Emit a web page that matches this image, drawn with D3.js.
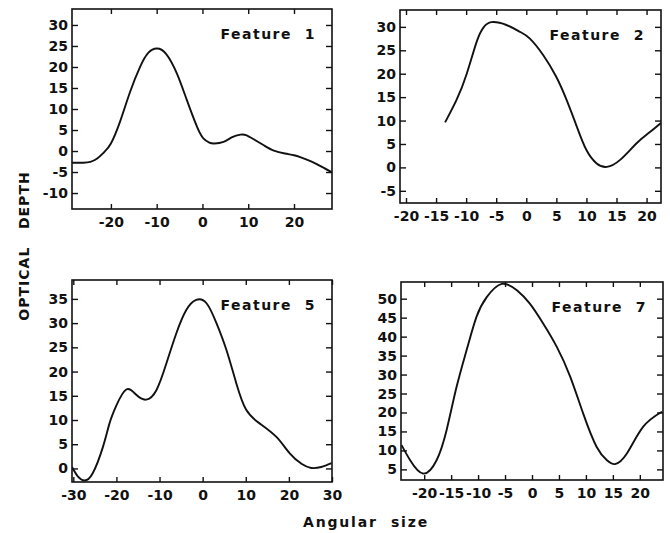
<!DOCTYPE html>
<html>
<head>
<meta charset="utf-8">
<script src="https://cdn.jsdelivr.net/npm/d3@7"></script>
<style>
body { margin: 0; background: #fff; }
svg text { font-family: "DejaVu Sans", sans-serif; font-weight: bold; fill: #111; }
.tick text { font-size: 14px; }
</style>
</head>
<body>
<svg id="chart" width="670" height="533"></svg>
<script>
// values (angular size vs optical depth)
const f1X = [-28.5, -26, -24.5, -23, -21.5, -20, -18, -15.8, -13.6, -11.8, -10, -8, -5.6, -3.4, -1.2, 0.2, 1.5, 2.6, 4.6, 6.5, 8.3, 9.5, 11.2, 13.5, 15.6, 18, 20, 21.5, 23.6, 26, 28.3];
const f1Y = [-2.8, -2.8, -2.6, -1.8, -0.3, 1.8, 7.0, 14.1, 20.1, 23.4, 24.4, 23.2, 18.5, 12.1, 5.8, 3.0, 2.0, 1.8, 2.2, 3.3, 3.9, 3.8, 2.8, 1.3, 0.1, -0.6, -1.0, -1.5, -2.4, -3.7, -5.1];

const f2X = [-13.5, -11.6, -9.9, -8.2, -7.1, -5.8, -3.3, -1.0, 0.6, 2.8, 5.0, 6.7, 8.4, 10.0, 11.7, 13.4, 15.6, 18.3, 20.5, 22.4];
const f2Y = [9.6, 14.4, 20, 27.0, 29.9, 31.0, 30.4, 28.9, 27.5, 24, 19.3, 14.4, 8.7, 3.7, 0.85, 0.1, 1.6, 5.1, 7.5, 9.5];

const f5X = [-30.3, -28.9, -27.4, -25.5, -23.1, -21.6, -20, -17.7, -15.4, -13.1, -10.7, -8.4, -6.1, -3.8, -1.5, 0.9, 3.2, 5.5, 7.8, 10.1, 13.2, 17.1, 20.2, 23.0, 25.2, 27.5, 29.9];
const f5Y = [0.3, -1.7, -2.5, -1.0, 4.5, 9.3, 13.0, 16.3, 15.2, 14.2, 16.2, 21.7, 27.9, 32.7, 34.8, 34.1, 30, 24.5, 17.6, 12.1, 9.3, 6.5, 3.1, 0.9, 0.1, 0.3, 1.1];

const f7X = [-24.2, -22.6, -20.2, -17.7, -15.8, -14.0, -12.1, -10.3, -8.4, -5.6, -2.8, -0.4, 2.1, 4.6, 7.1, 9.5, 12.0, 13.9, 15.4, 17.6, 20.6, 24.1];
const f7Y = [11.4, 7.4, 3.9, 7.4, 15.6, 26.7, 36.6, 45.2, 50.4, 53.9, 52.2, 48.7, 43.4, 37.3, 29.4, 19.7, 10.9, 7.4, 6.4, 9.2, 16.2, 20.2];

const names = ["Feature  1", "Feature  2", "Feature  5", "Feature  7"];
const xDomains = [[-28.5, 28.3], [-21, 22.4], [-30.3, 30], [-24.3, 24.3]];
const yDomains = [[-13.8, 33.8], [-7.6, 33.6], [-2.8, 38.9], [2.2, 54.4]];
const xTicks = [
  [-20, -10, 0, 10, 20],
  [-20, -15, -10, -5, 0, 5, 10, 15, 20],
  [-30, -20, -10, 0, 10, 20, 30],
  [-20, -15, -10, -5, 0, 5, 10, 15, 20]
];
const yTicks = [
  [-10, -5, 0, 5, 10, 15, 20, 25, 30],
  [-5, 0, 5, 10, 15, 20, 25, 30],
  [0, 5, 10, 15, 20, 25, 30, 35],
  [5, 10, 15, 20, 25, 30, 35, 40, 45, 50]
];
const series = [[f1X, f1Y], [f2X, f2Y], [f5X, f5Y], [f7X, f7Y]];

// panel boxes: left, top, right, bottom
const boxes = [[72, 9, 332, 209], [400, 10, 661, 203], [72, 280, 332, 482], [401, 282, 663, 480]];

const svg = d3.select("#chart");
const fmt = d => String(d);   // plain hyphen, as in the original

boxes.forEach((b, i) => {
  const [l, t, r, btm] = b;
  const x = d3.scaleLinear().domain(xDomains[i]).range([l, r]);
  const y = d3.scaleLinear().domain(yDomains[i]).range([btm, t]);
  const g = svg.append("g").attr("color", "#111");

  g.append("g").attr("transform", `translate(0,${btm})`)
    .call(d3.axisBottom(x).tickValues(xTicks[i]).tickFormat(fmt).tickSizeInner(-5).tickSizeOuter(0).tickPadding(8));
  g.append("g").attr("transform", `translate(0,${t})`)
    .call(d3.axisTop(x).tickValues(xTicks[i]).tickSizeInner(-5).tickSizeOuter(0).tickFormat(""));
  g.append("g").attr("transform", `translate(${l},0)`)
    .call(d3.axisLeft(y).tickValues(yTicks[i]).tickFormat(fmt).tickSizeInner(-6).tickSizeOuter(0).tickPadding(4));
  g.append("g").attr("transform", `translate(${r},0)`)
    .call(d3.axisRight(y).tickValues(yTicks[i]).tickSizeInner(-6).tickSizeOuter(0).tickFormat(""));
  g.selectAll(".domain").remove();
  g.selectAll(".tick line").attr("stroke-width", 1.4);

  g.append("rect")
    .attr("x", l).attr("y", t).attr("width", r - l).attr("height", btm - t)
    .attr("fill", "none").attr("stroke", "#111").attr("stroke-width", 1.6);

  svg.append("clipPath").attr("id", "clip" + i)
    .append("rect").attr("x", l).attr("y", t).attr("width", r - l).attr("height", btm - t);

  const [xs, ys] = series[i];
  const line = d3.line()
    .x(d => x(d[0]))
    .y(d => y(d[1]))
    .curve(d3.curveNatural);
  g.append("path")
    .datum(d3.zip(xs, ys))
    .attr("clip-path", `url(#clip${i})`)
    .attr("fill", "none")
    .attr("stroke", "#111")
    .attr("stroke-width", 1.9)
    .attr("d", line);

  g.append("text")
    .attr("x", r - 16)
    .attr("y", t + 30)
    .attr("text-anchor", "end")
    .style("font-size", "14px")
    .style("letter-spacing", "1.5px")
    .style("white-space", "pre")
    .text(names[i]);
});

svg.append("text")
  .attr("transform", "translate(29,246) rotate(-90)")
  .attr("text-anchor", "middle")
  .style("font-size", "14px")
  .style("letter-spacing", "1px")
  .style("white-space", "pre")
  .text("OPTICAL   DEPTH");

svg.append("text")
  .attr("x", 366)
  .attr("y", 527)
  .attr("text-anchor", "middle")
  .style("font-size", "14px")
  .style("letter-spacing", "1.8px")
  .style("white-space", "pre")
  .text("Angular  size");
</script>
</body>
</html>
